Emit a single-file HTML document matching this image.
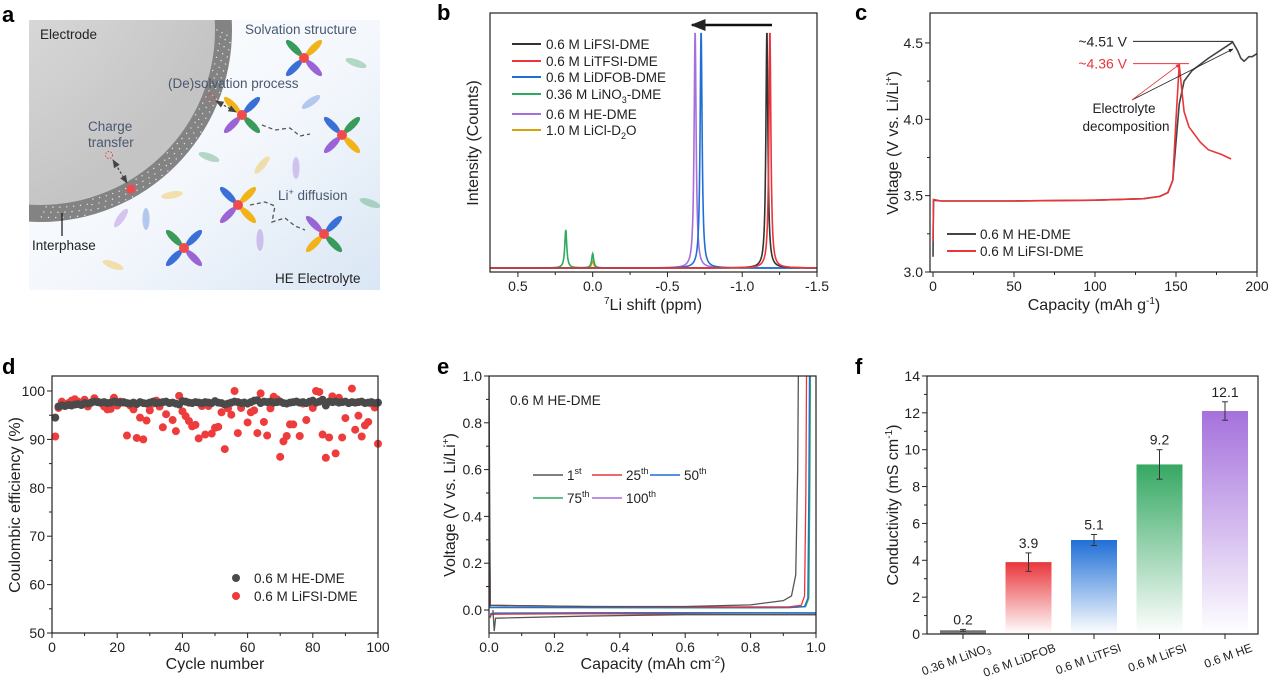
<!DOCTYPE html>
<html><head><meta charset="utf-8">
<style>
html,body{margin:0;padding:0;background:#fff;}
svg{display:block;font-family:"Liberation Sans",Arial,sans-serif;}
</style></head>
<body>
<svg id="fig" width="1268" height="677" viewBox="0 0 1268 677" xmlns="http://www.w3.org/2000/svg">
<defs>
  <linearGradient id="bgA" x1="0" y1="0" x2="1" y2="1">
    <stop offset="0" stop-color="#ffffff"/><stop offset="0.55" stop-color="#f3f7fc"/><stop offset="1" stop-color="#d9e6f4"/>
  </linearGradient>
  <radialGradient id="elecG" cx="0.1" cy="0.1" r="1">
    <stop offset="0" stop-color="#ececec"/><stop offset="1" stop-color="#c4c4c4"/>
  </radialGradient>
  <linearGradient id="gGray" x1="0" y1="0" x2="0" y2="1"><stop offset="0" stop-color="#666"/><stop offset="1" stop-color="#888"/></linearGradient>
  <linearGradient id="gRed" x1="0" y1="0" x2="0" y2="1"><stop offset="0" stop-color="#e8363b"/><stop offset="1" stop-color="#e8363b" stop-opacity="0"/></linearGradient>
  <linearGradient id="gBlue" x1="0" y1="0" x2="0" y2="1"><stop offset="0" stop-color="#1f6fd6"/><stop offset="1" stop-color="#1f6fd6" stop-opacity="0"/></linearGradient>
  <linearGradient id="gGreen" x1="0" y1="0" x2="0" y2="1"><stop offset="0" stop-color="#35a862"/><stop offset="1" stop-color="#35a862" stop-opacity="0"/></linearGradient>
  <linearGradient id="gPurple" x1="0" y1="0" x2="0" y2="1"><stop offset="0" stop-color="#a571dc"/><stop offset="1" stop-color="#a571dc" stop-opacity="0"/></linearGradient>
  <clipPath id="clipA"><rect x="29" y="20" width="351" height="270"/></clipPath>
  <clipPath id="clipB"><rect x="490" y="13" width="327" height="259"/></clipPath>
  <clipPath id="clipC"><rect x="930" y="13" width="327" height="259"/></clipPath>
  <clipPath id="clipE"><rect x="489" y="376" width="327" height="257"/></clipPath>
  <marker id="arrK" viewBox="0 0 10 10" refX="9" refY="5" markerWidth="7" markerHeight="7" orient="auto-start-reverse"><path d="M0,1 L10,5 L0,9 z" fill="#444"/></marker>
  <marker id="arrR" viewBox="0 0 10 10" refX="9" refY="5" markerWidth="6" markerHeight="6" orient="auto"><path d="M0,1 L10,5 L0,9 z" fill="#e8363b"/></marker>
  <marker id="arrB" viewBox="0 0 10 10" refX="9" refY="5" markerWidth="6" markerHeight="6" orient="auto"><path d="M0,1 L10,5 L0,9 z" fill="#222"/></marker>
</defs>
</svg>
<script>
// ---------------- DATA ----------------
// panel b: 7Li NMR peaks
const bSeries = ['0.6 M LiFSI-DME','0.6 M LiTFSI-DME','0.6 M LiDFOB-DME','0.36 M LiNO3-DME','0.6 M HE-DME','1.0 M LiCl-D2O'];
const bColors = ['#333333','#e8363b','#1f6fd6','#2eaa5e','#a66fdc','#d9a10b'];
const bCenters = [-1.165,-1.185,-0.725,0.18,-0.685,0.0];
const bHeights = [1.0,1.0,1.0,0.16,1.0,0.03];
const bSecondCenters = [null,null,null,0.0,null,null];
const bSecondHeights = [0,0,0,0.06,0,0];
const bXTicks = [0.5,0.0,-0.5,-1.0,-1.5];
const bXTickLabels = ['0.5','0.0','-0.5','-1.0','-1.5'];

// panel c: voltage profiles
const cHeCap = [0,0.3,5,50,100,130,140,145,148,150,152,155,160,170,180,185,188,190,192,195,197,200];
const cHeV   = [3.1,3.47,3.465,3.465,3.47,3.48,3.495,3.52,3.6,3.85,4.1,4.25,4.32,4.4,4.47,4.505,4.45,4.4,4.38,4.41,4.41,4.43];
const cFsiCap = [0,0.3,5,50,100,130,140,145,148,150,152,153.5,155,158,165,170,178,184];
const cFsiV   = [3.2,3.475,3.465,3.465,3.47,3.48,3.495,3.52,3.6,4.0,4.36,4.2,4.05,3.95,3.85,3.8,3.77,3.74];
const cXTicks = [0,50,100,150,200];
const cYTicks = [3.0,3.5,4.0,4.5];

// panel d: coulombic efficiency
const dCycles = Array.from({length:100},(_,i)=>i+1);
const dHE = [94.5,96.8,97.0,96.9,97.1,97.0,97.2,97.3,97.1,97.5,97.4,97.6,97.8,97.7,97.6,97.7,97.5,97.6,97.8,97.7,97.6,97.7,97.5,97.4,97.6,97.3,97.7,97.5,97.4,97.6,97.8,97.5,97.6,97.7,97.8,97.5,97.6,97.4,97.2,97.9,97.8,97.6,97.5,97.7,97.6,97.5,97.7,97.6,97.5,97.9,97.6,97.5,97.2,97.4,97.6,97.8,97.7,97.5,97.6,97.4,97.7,98.0,98.1,97.5,97.8,97.7,97.8,97.6,97.7,97.8,97.5,97.4,97.6,97.7,97.8,97.6,97.7,97.5,97.8,98.0,97.6,97.8,98.2,97.0,97.8,97.7,97.8,97.6,97.7,97.8,97.5,97.7,97.6,97.7,97.8,97.5,97.6,97.7,97.5,97.6];
const dFSI = [90.6,96.5,97.8,97.2,97.5,98.0,98.3,97.8,97.5,98.2,96.8,97.6,98.5,97.8,97.5,96.8,96.2,96.3,98.6,97.0,97.8,97.6,90.8,97.0,96.2,90.3,94.5,90.0,93.9,96.0,97.4,98.0,96.8,92.5,95.2,97.5,94.0,91.7,99.0,95.8,94.8,93.8,92.7,93.0,90.2,96.9,91.0,96.9,91.2,92.4,92.6,95.6,88.0,96.4,95.1,100.0,91.3,96.5,97.6,93.5,95.6,96.0,91.3,99.5,93.6,90.8,96.4,98.8,98.3,86.4,89.6,90.7,93.1,93.1,97.8,90.7,97.4,94.0,97.6,96.5,100.0,99.8,91.0,86.2,90.4,98.9,87.1,98.6,90.4,94.4,97.5,100.5,92.0,94.9,90.6,92.9,93.6,97.4,96.6,89.1];
const dXTicks = [0,20,40,60,80,100];
const dYTicks = [50,60,70,80,90,100];

// panel e: Li plating/stripping (capacity, voltage) per cycle
const eLabels = ['1st','25th','50th','75th','100th'];
const eColors = ['#555555','#e8363b','#1f6fd6','#2eaa5e','#a66fdc'];
const eStripCap = [
  [0,0.004,0.3,0.6,0.8,0.9,0.925,0.938,0.944,0.946],
  [0,0.004,0.3,0.6,0.8,0.92,0.955,0.965,0.969,0.971],
  [0,0.004,0.3,0.6,0.8,0.92,0.965,0.975,0.978,0.98],
  [0,0.004,0.3,0.6,0.8,0.92,0.968,0.978,0.981,0.983],
  [0,0.004,0.3,0.6,0.8,0.92,0.966,0.976,0.979,0.981]];
const eStripV = [
  [1.0,0.02,0.015,0.015,0.022,0.04,0.06,0.15,0.6,1.0],
  [0.6,0.02,0.015,0.013,0.013,0.014,0.02,0.06,0.5,1.0],
  [0.5,0.012,0.011,0.01,0.01,0.011,0.015,0.05,0.5,1.0],
  [0.4,0.01,0.01,0.009,0.009,0.01,0.014,0.05,0.5,1.0],
  [0.4,0.011,0.01,0.01,0.01,0.011,0.015,0.05,0.5,1.0]];
const ePlateCap = [
  [0.012,0.016,0.02,0.3,0.6,1.0],
  [0.004,0.006,0.02,0.3,0.6,1.0],
  [0.004,0.006,0.02,0.3,0.6,1.0],
  [0.004,0.006,0.02,0.3,0.6,1.0],
  [0.004,0.006,0.02,0.3,0.6,1.0]];
const ePlateV = [
  [0.0,-0.09,-0.035,-0.026,-0.02,-0.02],
  [-0.03,-0.02,-0.018,-0.016,-0.018,-0.02],
  [-0.03,-0.015,-0.013,-0.012,-0.012,-0.013],
  [-0.035,-0.02,-0.015,-0.013,-0.012,-0.012],
  [-0.03,-0.016,-0.014,-0.013,-0.012,-0.013]];
const eXTicks = [0,0.2,0.4,0.6,0.8,1.0];
const eYTicks = [0,0.2,0.4,0.6,0.8,1.0];

// panel f: conductivity
const fCats = ['0.36 M LiNO3','0.6 M LiDFOB','0.6 M LiTFSI','0.6 M LiFSI','0.6 M HE'];
const fVals = [0.2,3.9,5.1,9.2,12.1];
const fErrs = [0.05,0.5,0.3,0.8,0.5];
const fLabels = ['0.2','3.9','5.1','9.2','12.1'];
const fYTicks = [0,2,4,6,8,10,12,14];

// ---------------- HELPERS ----------------
const NS='http://www.w3.org/2000/svg';
const svg=document.getElementById('fig');
function el(tag,attrs,parent){const e=document.createElementNS(NS,tag);for(const k in attrs)e.setAttribute(k,attrs[k]);(parent||svg).appendChild(e);return e;}
function txt(str,attrs,parent){const t=el('text',attrs,parent);t.textContent=str;return t;}
function group(name,parent){const g=el('g',{},parent);return g;}
function pathD(xs,ys,sx,sy){return xs.map((x,i)=>(i?'L':'M')+sx(x).toFixed(2)+','+sy(ys[i]).toFixed(2)).join(' ');}

function axesBox(g,x0,y0,x1,y1){
  const r=el('rect',{x:x0,y:y0,width:x1-x0,height:y1-y0,fill:'none',stroke:'#222','stroke-width':1.2},g);
  
}
function xTicks(g,ticks,labels,sx,yb,minorStep,dom){
  ticks.forEach((t,i)=>{
    el('line',{x1:sx(t),x2:sx(t),y1:yb,y2:yb+5,stroke:'#222','stroke-width':1},g);
    const l=txt(labels[i],{x:sx(t),y:yb+19,'font-size':14,'text-anchor':'middle',fill:'#222'},g);
    
  });
  if(minorStep){for(let i=0;i<ticks.length-1;i++){const m=(ticks[i]+ticks[i+1])/2;el('line',{x1:sx(m),x2:sx(m),y1:yb,y2:yb+3,stroke:'#222','stroke-width':1},g);}}
}
function yTicks(g,ticks,labels,sy,xl){
  ticks.forEach((t,i)=>{
    el('line',{x1:xl-5,x2:xl,y1:sy(t),y2:sy(t),stroke:'#222','stroke-width':1},g);
    const l=txt(labels[i],{x:xl-7,y:sy(t)+5,'font-size':14,'text-anchor':'end',fill:'#222'},g);
    
  });
  for(let i=0;i<ticks.length-1;i++){const m=(ticks[i]+ticks[i+1])/2;el('line',{x1:xl-3,x2:xl,y1:sy(m),y2:sy(m),stroke:'#222','stroke-width':1},g);}
}
function panelLabel(ch,x,y){const t=txt(ch,{x:x,y:y,'font-size':22,'font-weight':'bold',fill:'#000'});}
function yTitle(g,html,x,cy){const t=el('text',{x:0,y:0,'font-size':16,'text-anchor':'middle',fill:'#222',transform:'translate('+x+','+cy+') rotate(-90)'},g);t.innerHTML=html;return t;}
function xTitle(g,html,cx,y){const t=el('text',{x:cx,y:y,'font-size':16,'text-anchor':'middle',fill:'#222'},g);t.innerHTML=html;return t;}

// ---------------- PANEL A ----------------
(function(){
  const g=group('panel-a-schematic');
  const bg=el('rect',{x:29,y:20,width:351,height:270,fill:'url(#bgA)'},g);
  
  const cg=el('g',{'clip-path':'url(#clipA)'},g);
  const inter=el('circle',{cx:40,cy:30,r:192,fill:'#838383'},cg);
  
  for(let a=0;a<90;a+=2.2){for(let k=0;k<3;k++){const rr=177+k*5+((a*7)%4);const ang=(a+k*0.8)*Math.PI/180;el('circle',{cx:40+rr*Math.cos(ang),cy:30+rr*Math.sin(ang),r:0.7,fill:'#fff',opacity:0.8},cg);}}
  const elec=el('circle',{cx:40,cy:30,r:175,fill:'url(#elecG)'},cg);
  
  const petalC={g:'#3a9a5c',y:'#f2b21a',b:'#3b6fd8',p:'#9a64d6'};
  const mols=[[304,58,['g','y','p','b'],0],[242,115,['y','b','g','p'],0],[342,135,['b','g','y','p'],10],[238,205,['b','y','y','p'],0],[324,234,['p','b','g','y'],0],[184,248,['g','b','p','b'],0]];
  mols.forEach(m=>{
    const mg=el('g',{},cg);
    const angs=[-135,-45,45,135];
    angs.forEach((a,i)=>{const r=a*Math.PI/180;el('ellipse',{cx:m[0]+14*Math.cos(r),cy:m[1]+14*Math.sin(r),rx:11,ry:3.6,fill:petalC[m[2][i]],transform:'rotate('+(a)+' '+(m[0]+14*Math.cos(r))+' '+(m[1]+14*Math.sin(r))+')'},mg);});
    el('circle',{cx:m[0],cy:m[1],r:5,fill:'#ef4b4b'},mg);
  });
  const free=[[356,63,'g',20],[311,102,'b',-35],[209,157,'g',20],[262,165,'y',-50],[296,168,'p',90],[172,195,'y',-10],[121,218,'p',-55],[146,219,'b',90],[260,240,'p',90],[370,203,'g',20],[113,265,'y',20]];
  free.forEach(f=>{const e=el('ellipse',{cx:f[0],cy:f[1],rx:11,ry:3.6,fill:petalC[f[2]],opacity:0.35,transform:'rotate('+f[3]+' '+f[0]+' '+f[1]+')'},cg);});
  el('path',{d:'M262,125 L275,130 L290,128 L300,136 L310,134',fill:'none',stroke:'#555','stroke-width':1.3,'stroke-dasharray':'4,3'},cg);
  el('path',{d:'M250,205 L265,202 L275,206 L272,222 L285,218 L295,226 L305,230',fill:'none',stroke:'#555','stroke-width':1.3,'stroke-dasharray':'4,3'},cg);
  el('circle',{cx:211,cy:97,r:3.5,fill:'none',stroke:'#e8363b','stroke-width':0.9,'stroke-dasharray':'1.5,1.5'},cg);
  el('circle',{cx:109,cy:155,r:3.5,fill:'none',stroke:'#e8363b','stroke-width':0.9,'stroke-dasharray':'1.5,1.5'},cg);
  el('line',{x1:216,y1:101,x2:236,y2:112,stroke:'#444','stroke-width':1.2,'stroke-dasharray':'2.5,2','marker-start':'url(#arrK)','marker-end':'url(#arrK)'},cg);
  el('line',{x1:113,y1:160,x2:127,y2:183,stroke:'#444','stroke-width':1.2,'stroke-dasharray':'2.5,2','marker-start':'url(#arrK)','marker-end':'url(#arrK)'},cg);
  el('circle',{cx:131,cy:189,r:4.5,fill:'#ef4b4b'},cg);
  el('line',{x1:62,y1:213,x2:62,y2:236,stroke:'#111','stroke-width':1.2},cg);
  const lbls=[['Electrode',40,39,'#222'],['Solvation structure',245,34,'#4a5870'],['(De)solvation process',168,88,'#4a5870'],['Charge',88,131,'#4a5870'],['transfer',88,147,'#4a5870'],['Interphase',32,250,'#222'],['HE Electrolyte',275,283,'#222']];
  lbls.forEach(l=>{const t=txt(l[0],{x:l[1],y:l[2],'font-size':13.5,fill:l[3]},g);});
  const li=el('text',{x:278,y:200,'font-size':13.5,fill:'#4a5870'},g);li.innerHTML='Li<tspan font-size="9" dy="-5">+</tspan><tspan dy="5"> diffusion</tspan>';
  
})();
panelLabel('a',2,22);

// ---------------- PANEL B ----------------
(function(){
  const g=group('panel-b-nmr');
  const sx=v=>488+(0.7-v)*(817-488)/2.2;
  const sy=v=>268-v*238;
  const cg=el('g',{'clip-path':'url(#clipB)'},g);
  const order=[5,3,4,2,0,1];
  order.forEach(s=>{
    const xs=[],ys=[];
    for(let x=0.72;x>=-1.52;x-=0.002){
      let y=bHeights[s]/(1+Math.pow((x-bCenters[s])/0.008,2));
      if(bSecondCenters[s]!==null)y+=bSecondHeights[s]/(1+Math.pow((x-bSecondCenters[s])/0.008,2));
      xs.push(x);ys.push(y);
    }
    const p=el('path',{d:pathD(xs,ys,sx,sy),fill:'none',stroke:bColors[s],'stroke-width':1.6},cg);
    
  });
  axesBox(g,490,13,817,272);
  xTicks(g,bXTicks,bXTickLabels,sx,272,true);
  const ar=el('line',{x1:772,y1:25,x2:692,y2:25,stroke:'#111','stroke-width':2.5,'marker-end':'url(#arrB)'},g);
  
  const ly=[44,61,77,94,114,130];
  bSeries.forEach((s,i)=>{
    const lg=el('g',{},g);
    el('line',{x1:512,x2:541,y1:ly[i],y2:ly[i],stroke:bColors[i],'stroke-width':2},lg);
    const t=el('text',{x:546,y:ly[i]+5,'font-size':13.5,fill:'#222'},lg);
    if(i===3)t.innerHTML='0.36 M LiNO<tspan font-size="9" dy="4">3</tspan><tspan dy="-4">-DME</tspan>';
    else if(i===5)t.innerHTML='1.0 M LiCl-D<tspan font-size="9" dy="4">2</tspan><tspan dy="-4">O</tspan>';
    else t.textContent=s;
  });
  xTitle(g,'<tspan font-size="10" dy="-6">7</tspan><tspan dy="6">Li shift (ppm)</tspan>',653,310);
  yTitle(g,'Intensity (Counts)',478,143);
})();
panelLabel('b',437,20);

// ---------------- PANEL C ----------------
(function(){
  const g=group('panel-c-voltage');
  const sx=v=>933+v*1.62;
  const sy=v=>272-(v-3)*152.7;
  const cg=el('g',{'clip-path':'url(#clipC)'},g);
  const p1=el('path',{d:pathD(cHeCap,cHeV,sx,sy),fill:'none',stroke:'#444','stroke-width':1.6},cg);
  
  const p2=el('path',{d:pathD(cFsiCap,cFsiV,sx,sy),fill:'none',stroke:'#e8363b','stroke-width':1.6},cg);
  
  axesBox(g,930,13,1257,272);
  xTicks(g,cXTicks,cXTicks.map(String),sx,272,true);
  yTicks(g,cYTicks,cYTicks.map(v=>v.toFixed(1)),sy,930);
  el('line',{x1:1133,x2:sx(185),y1:sy(4.51),y2:sy(4.51),stroke:'#222','stroke-width':1},g);
  el('line',{x1:1133,x2:sx(158),y1:sy(4.365),y2:sy(4.365),stroke:'#e8363b','stroke-width':1},g);
  const a1=txt('~4.51 V',{x:1127,y:sy(4.51)+5,'font-size':14,'text-anchor':'end',fill:'#222'},g);
  const a2=txt('~4.36 V',{x:1127,y:sy(4.365)+5,'font-size':14,'text-anchor':'end',fill:'#e8363b'},g);
  el('line',{x1:1132,y1:100,x2:1233,y2:49,stroke:'#222','stroke-width':0.8,'marker-end':'url(#arrB)'},g);
  el('line',{x1:1132,y1:100,x2:1180,y2:64,stroke:'#e8363b','stroke-width':0.8,'marker-end':'url(#arrR)'},g);
  const d1=txt('Electrolyte',{x:1124,y:113,'font-size':13.5,'text-anchor':'middle',fill:'#222'},g);
  txt('decomposition',{x:1126,y:131,'font-size':13.5,'text-anchor':'middle',fill:'#222'},g);
  [['0.6 M HE-DME','#444',234],['0.6 M LiFSI-DME','#e8363b',251]].forEach(l=>{
    const lg=el('g',{},g);
    el('line',{x1:947,x2:976,y1:l[2],y2:l[2],stroke:l[1],'stroke-width':2},lg);
    txt(l[0],{x:980,y:l[2]+5,'font-size':13.5,fill:'#222'},lg);
  });
  xTitle(g,'Capacity (mAh g<tspan font-size="10" dy="-6">-1</tspan><tspan dy="6">)</tspan>',1094,310);
  yTitle(g,'Voltage (V vs. Li/Li<tspan font-size="10" dy="-6">+</tspan><tspan dy="6">)</tspan>',898,143);
})();
panelLabel('c',855,20);

// ---------------- PANEL D ----------------
(function(){
  const g=group('panel-d-efficiency');
  const sx=v=>52+v*3.26;
  const sy=v=>633-(v-50)*4.84;
  dCycles.forEach((c,i)=>{const m=el('circle',{cx:sx(c),cy:sy(dFSI[i]),r:4,fill:'#ee3b3b'},g);});
  dCycles.forEach((c,i)=>{const m=el('circle',{cx:sx(c),cy:sy(dHE[i]),r:4,fill:'#4a4a4a'},g);});
  axesBox(g,52,376,378,633);
  xTicks(g,dXTicks,dXTicks.map(String),sx,633,true);
  yTicks(g,dYTicks,dYTicks.map(String),sy,52);
  [['0.6 M HE-DME','#4a4a4a',578],['0.6 M LiFSI-DME','#ee3b3b',596]].forEach(l=>{
    const lg=el('g',{},g);
    el('circle',{cx:236,cy:l[2],r:4,fill:l[1]},lg);
    txt(l[0],{x:254,y:l[2]+5,'font-size':13.5,fill:'#222'},lg);
  });
  xTitle(g,'Cycle number',215,669);
  yTitle(g,'Coulombic efficiency (%)',20,505);
})();
panelLabel('d',2,374);

// ---------------- PANEL E ----------------
(function(){
  const g=group('panel-e-plating');
  const sx=v=>489+v*327;
  const sy=v=>610-v*234;
  const cg=el('g',{'clip-path':'url(#clipE)'},g);
  [4,3,2,1,0].forEach(i=>{
    const p=el('path',{d:pathD(eStripCap[i],eStripV[i],sx,sy),fill:'none',stroke:eColors[i],'stroke-width':1.3},cg);
    
    const q=el('path',{d:pathD(ePlateCap[i],ePlateV[i],sx,sy),fill:'none',stroke:eColors[i],'stroke-width':1.3},cg);
    
  });
  axesBox(g,489,376,816,633);
  xTicks(g,eXTicks,eXTicks.map(v=>v.toFixed(1)),sx,633,true);
  yTicks(g,eYTicks,eYTicks.map(v=>v.toFixed(1)),sy,489);
  const n=txt('0.6 M HE-DME',{x:510,y:405,'font-size':13.5,fill:'#222'},g);
  const pos=[[533,475],[592,475],[650,475],[533,498],[592,498]];
  eLabels.forEach((l,i)=>{
    const lg=el('g',{},g);
    el('line',{x1:pos[i][0],x2:pos[i][0]+30,y1:pos[i][1],y2:pos[i][1],stroke:eColors[i],'stroke-width':1.6},lg);
    const t=el('text',{x:pos[i][0]+34,y:pos[i][1]+5,'font-size':13.5,fill:'#222'},lg);
    const num=l.replace(/[a-z]+/,''),suf=l.replace(/[0-9]+/,'');
    t.innerHTML=num+'<tspan font-size="9" dy="-6">'+suf+'</tspan>';
  });
  xTitle(g,'Capacity (mAh cm<tspan font-size="10" dy="-6">-2</tspan><tspan dy="6">)</tspan>',653,669);
  yTitle(g,'Voltage (V vs. Li/Li<tspan font-size="10" dy="-6">+</tspan><tspan dy="6">)</tspan>',455,505);
})();
panelLabel('e',437,374);

// ---------------- PANEL F ----------------
(function(){
  const g=group('panel-f-conductivity');
  const sy=v=>634-v*18.43;
  const cx=i=>963+i*65.5;
  const fills=['url(#gGray)','url(#gRed)','url(#gBlue)','url(#gGreen)','url(#gPurple)'];
  fCats.forEach((c,i)=>{
    const b=el('rect',{x:cx(i)-23,y:sy(fVals[i]),width:46,height:sy(0)-sy(fVals[i]),fill:fills[i]},g);
    
    const eb=el('g',{},g);
    el('line',{x1:cx(i),x2:cx(i),y1:sy(fVals[i]+fErrs[i]),y2:sy(fVals[i]-fErrs[i]),stroke:'#333','stroke-width':1},eb);
    el('line',{x1:cx(i)-3,x2:cx(i)+3,y1:sy(fVals[i]+fErrs[i]),y2:sy(fVals[i]+fErrs[i]),stroke:'#333','stroke-width':1},eb);
    el('line',{x1:cx(i)-3,x2:cx(i)+3,y1:sy(fVals[i]-fErrs[i]),y2:sy(fVals[i]-fErrs[i]),stroke:'#333','stroke-width':1},eb);
    const v=txt(fLabels[i],{x:cx(i),y:sy(fVals[i]+fErrs[i])-5,'font-size':14,'text-anchor':'middle',fill:'#222'},g);
    
    el('line',{x1:cx(i),x2:cx(i),y1:634,y2:639,stroke:'#222','stroke-width':1},g);
    const t=el('text',{x:0,y:0,'font-size':12,'text-anchor':'end',fill:'#222',transform:'translate('+(cx(i)+28)+','+651+') rotate(-20)'},g);
    if(i===0)t.innerHTML='0.36 M LiNO<tspan font-size="8" dy="3">3</tspan>';else t.textContent=c;
    
  });
  axesBox(g,927,376,1258,634);
  yTicks(g,fYTicks,fYTicks.map(String),sy,927);
  yTitle(g,'Conductivity (mS cm<tspan font-size="10" dy="-6">-1</tspan><tspan dy="6">)</tspan>',898,505);
})();
panelLabel('f',855,374);
</script>
</body></html>
